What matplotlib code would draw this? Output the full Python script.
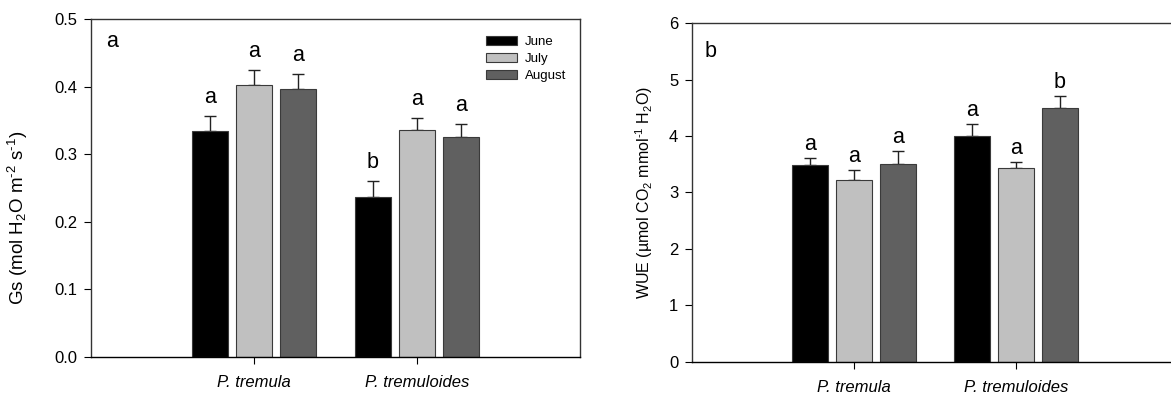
import numpy as np
import matplotlib.pyplot as plt

plt.rcParams['font.family'] = ['Liberation Sans', 'DejaVu Sans']
plt.rcParams['mathtext.fontset'] = 'custom'
plt.rcParams['mathtext.rm'] = 'Liberation Sans'
plt.rcParams['mathtext.it'] = 'Liberation Sans:italic'

# datos
especies = ['P. tremula', 'P. tremuloides']
meses = ['June', 'July', 'August']
colores = ['#000000', '#c0c0c0', '#606060']

gs_media = [[0.335, 0.237],   # June
            [0.403, 0.336],   # July
            [0.397, 0.326]]   # August
gs_error = [[0.021, 0.023],
            [0.022, 0.018],
            [0.022, 0.019]]
gs_letras = [['a', 'b'], ['a', 'a'], ['a', 'a']]

wue_media = [[3.49, 4.00],
             [3.22, 3.43],
             [3.50, 4.50]]
wue_error = [[0.12, 0.21],
             [0.17, 0.11],
             [0.23, 0.21]]
wue_letras = [['a', 'a'], ['a', 'a'], ['a', 'b']]

fig = plt.figure(figsize=(11.71, 3.96), dpi=100)
ax1 = fig.add_axes([0.0777, 0.0985, 0.4176, 0.8535])
ax2 = fig.add_axes([0.591, 0.0859, 0.415, 0.856])

x = np.arange(len(especies))
ancho = 0.22
desp = 0.27


def barras(ax, media, error, letras, dy):
    for i in range(3):
        pos = x + (i - 1) * desp
        m = np.array(media[i])
        e = np.array(error[i])
        ax.bar(pos, m, ancho, color=colores[i], edgecolor='#3a3a3a',
               linewidth=0.8, label=meses[i], zorder=2)
        ax.errorbar(pos, m, yerr=[np.zeros_like(e), e], fmt='none',
                    ecolor='#222222', elinewidth=1.0, capsize=4.5,
                    capthick=1.0, zorder=1)
        for j in range(len(pos)):
            ax.annotate(letras[i][j], (pos[j], m[j] + e[j]),
                        xytext=(0, dy), textcoords='offset points',
                        ha='center', va='baseline', fontsize=15.5)
    ax.set_xlim(-1, 2)
    ax.set_xticks(x)
    ax.set_xticklabels(especies, fontstyle='italic', fontsize=12)
    ax.tick_params(axis='y', direction='out', length=5, width=0.8,
                   labelsize=12, pad=5)
    ax.tick_params(axis='x', direction='out', length=5, width=0.8, pad=8)
    for s in ax.spines.values():
        s.set_linewidth(1.0)
        s.set_color('#333333')
    ax.spines['bottom'].set_color('#000000')


barras(ax1, gs_media, gs_error, gs_letras, 9.5)
ax1.set_ylim(0, 0.5)
ax1.set_yticks(np.arange(0, 0.51, 0.1))
ax1.set_yticklabels(['0.0', '0.1', '0.2', '0.3', '0.4', '0.5'])
ax1.set_ylabel(r'Gs (mol H$_2$O m$^{\text{-}2}$ s$^{\text{-}1}$)',
               fontsize=13.5, labelpad=7)
ax1.yaxis.set_label_coords(-0.125, 0.41)
ax1.text(0.03, 0.917, 'a', transform=ax1.transAxes, fontsize=15.5,
         va='baseline', ha='left')
ax1.legend(loc='upper left', bbox_to_anchor=(0.808, 0.95),
           frameon=False, fontsize=9.5, borderpad=0, borderaxespad=0,
           handlelength=2.35, handleheight=0.7, labelspacing=0.36,
           handletextpad=0.6)

barras(ax2, wue_media, wue_error, wue_letras, 6)
ax2.set_ylim(0, 6)
ax2.set_yticks(range(0, 7))
ax2.set_ylabel(r'WUE (µmol CO$_2$ mmol$^{\text{-}1}$ H$_2$O)', fontsize=11.5,
               labelpad=10)
ax2.text(0.025, 0.9, 'b', transform=ax2.transAxes, fontsize=15.5,
         va='baseline', ha='left')

fig.savefig('out.png', dpi=100)
